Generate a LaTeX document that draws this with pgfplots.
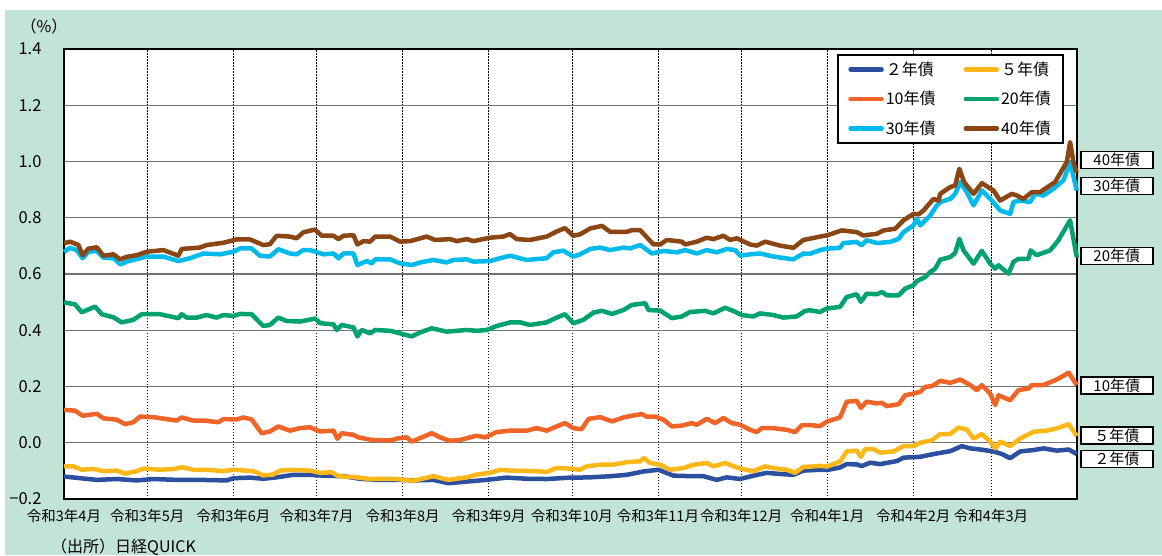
\documentclass[border=0pt]{standalone}
\usepackage{fontspec}
\setmainfont{Noto Sans CJK JP}
\usepackage{pgfplots}
\pgfplotsset{compat=1.18}
\definecolor{bgmint}{RGB}{193,228,215}
\definecolor{cTwo}{RGB}{44,80,160}
\definecolor{cFive}{RGB}{252,183,25}
\definecolor{cTen}{RGB}{241,100,40}
\definecolor{cTwenty}{RGB}{0,163,112}
\definecolor{cThirty}{RGB}{0,186,235}
\definecolor{cForty}{RGB}{140,70,20}
\tikzset{rbox/.style={draw=black, line width=1.5pt, fill=white, anchor=west, minimum width=72pt, minimum height=17pt, inner sep=0pt, xshift=3pt, font=\fontsize{15}{15}\selectfont}}
\begin{document}
\begin{tikzpicture}
\fill[white] (-64pt,-56pt) rectangle (1098pt,499pt);
\fill[bgmint] (-59pt,-56pt) rectangle (1098pt,489pt);
\begin{axis}[
  at={(0pt,0pt)}, anchor=south west,
  scale only axis, width=1013pt, height=450pt,
  xmin=0, xmax=365, ymin=-0.2, ymax=1.4,
  xtick={0,30,61,91,122,153,183,214,244,275,306,334},
  xticklabels={令和3年4月,令和3年5月,令和3年6月,令和3年7月,令和3年8月,令和3年9月,令和3年10月,令和3年11月,令和3年12月,令和4年1月,令和4年2月,令和4年3月},
  ytick={-0.2,0,0.2,0.4,0.6,0.8,1.0,1.2,1.4},
  yticklabels={−0.2,0.0,0.2,0.4,0.6,0.8,1.0,1.2,1.4},
  xmajorgrids, ymajorgrids,
  major x grid style={black, line width=0.7pt, dash pattern=on 1.5pt off 1.5pt},
  major y grid style={black!55, line width=1.3pt},
  axis line style={line width=2.5pt},
  axis background/.style={fill=white},
  major tick length=0pt,
  xticklabel style={font=\fontsize{14.5}{15}\selectfont, yshift=-7pt},
  yticklabel style={font=\fontsize{16.5}{16.5}\selectfont, xshift=-19pt},
  clip=false,
  every axis plot/.append style={line width=4.5pt, line join=round, no markers},
  legend columns=2,
  legend cell align=left,
  legend image code/.code={\draw[#1, line width=4.5pt, line cap=round] (2pt,0pt) -- (33pt,0pt);},
  legend style={at={(rel axis cs:0.987,0.989)}, anchor=north east, draw=black, line width=2pt, fill=white,
    font=\fontsize{16}{18}\selectfont, inner xsep=10pt, inner ysep=5pt, row sep=10.5pt,
    /tikz/every even column/.append style={column sep=26pt}},
]
\addplot[cTwo] coordinates {(0,-0.120)(5.8,-0.126)(11.8,-0.132)(19.0,-0.129)(26.2,-0.134)(32.2,-0.129)(40.6,-0.132)(49.0,-0.132)(58.6,-0.134)(61.0,-0.126)(67.0,-0.124)(71.8,-0.128)(76.6,-0.123)(82.6,-0.114)(88.7,-0.114)(93.5,-0.117)(100.7,-0.119)(106.7,-0.128)(112.7,-0.132)(121.1,-0.132)(125.9,-0.134)(133.1,-0.132)(138.5,-0.144)(145.1,-0.138)(152.3,-0.132)(159.5,-0.124)(166.7,-0.128)(173.9,-0.129)(182.3,-0.124)(184.7,-0.124)(189.6,-0.123)(196.8,-0.119)(202.8,-0.114)(208.8,-0.102)(214.2,-0.096)(219.6,-0.117)(226.8,-0.119)(230.4,-0.119)(235.2,-0.132)(238.8,-0.123)(243.6,-0.129)(248.4,-0.117)(253.2,-0.107)(258.0,-0.111)(262.8,-0.114)(266.4,-0.099)(272.4,-0.096)(275.0,-0.097)(279.6,-0.088)(282.0,-0.076)(285.6,-0.077)(287.4,-0.083)(290.5,-0.071)(294.1,-0.076)(300.1,-0.065)(302.5,-0.053)(308.5,-0.050)(314.5,-0.038)(319.3,-0.030)(323.5,-0.012)(326.5,-0.020)(330.1,-0.024)(334.9,-0.031)(337.9,-0.040)(340.9,-0.055)(344.5,-0.031)(349.3,-0.026)(352.9,-0.020)(357.7,-0.028)(362.0,-0.024)(364.9,-0.040)};
\addlegendentry{２年債}
\addplot[cFive] coordinates {(0,-0.084)(3.4,-0.084)(6.4,-0.096)(10.6,-0.093)(14.2,-0.101)(19.0,-0.099)(22.0,-0.110)(26.2,-0.101)(28.6,-0.092)(34.6,-0.096)(40.0,-0.093)(42.4,-0.087)(46.6,-0.096)(51.4,-0.096)(57.4,-0.101)(61.0,-0.096)(68.2,-0.101)(71.8,-0.116)(75.4,-0.113)(77.8,-0.099)(82.6,-0.096)(88.6,-0.099)(92.3,-0.107)(96.5,-0.105)(98.9,-0.119)(105.5,-0.123)(110.3,-0.129)(118.7,-0.128)(125.9,-0.135)(133.1,-0.119)(138.5,-0.132)(145.1,-0.123)(148.7,-0.113)(153.5,-0.107)(157.1,-0.096)(160.7,-0.099)(170.3,-0.101)(173.9,-0.104)(177.5,-0.090)(182.3,-0.092)(185.9,-0.096)(188.3,-0.084)(193.2,-0.078)(197.9,-0.078)(202.8,-0.069)(207.6,-0.066)(208.8,-0.054)(211.2,-0.072)(214.8,-0.078)(218.4,-0.096)(223.2,-0.090)(226.8,-0.078)(231.6,-0.072)(234.0,-0.084)(238.2,-0.072)(243.6,-0.092)(248.4,-0.101)(252.6,-0.084)(256.8,-0.092)(260.4,-0.096)(263.4,-0.107)(266.4,-0.086)(268.8,-0.085)(272.4,-0.082)(274.8,-0.085)(279.6,-0.067)(282.0,-0.031)(285.6,-0.028)(287.1,-0.050)(288.6,-0.023)(291.7,-0.023)(294.1,-0.035)(298.9,-0.031)(302.5,-0.012)(306.1,-0.012)(308.5,0.000)(312.7,0.009)(315.7,0.031)(319.3,0.031)(322.3,0.054)(325.3,0.047)(327.7,0.015)(330.7,0.031)(333.7,0.004)(335.5,-0.020)(337.3,0.004)(340.9,-0.012)(344.5,0.015)(349.3,0.039)(354.1,0.043)(357.7,0.051)(362.0,0.066)(364.9,0.024)};
\addlegendentry{５年債}
\addplot[cTen] coordinates {(0,0.117)(4.0,0.114)(6.7,0.096)(11.8,0.103)(14.2,0.087)(19.0,0.082)(22.0,0.066)(25.0,0.073)(27.4,0.093)(32.2,0.091)(37.0,0.084)(40.6,0.079)(42.4,0.090)(46.6,0.079)(50.2,0.079)(55.6,0.073)(57.4,0.084)(62.2,0.083)(64.6,0.090)(67.6,0.083)(71.2,0.034)(74.2,0.040)(77.2,0.058)(81.4,0.043)(85.0,0.052)(88.6,0.055)(92.3,0.040)(97.1,0.043)(98.5,0.014)(100.1,0.034)(104.3,0.028)(106.1,0.019)(110.9,0.010)(117.5,0.008)(120.5,0.016)(123.5,0.019)(125.3,0.004)(132.5,0.034)(135.5,0.019)(139.1,0.007)(142.7,0.010)(148.7,0.025)(151.7,0.019)(155.9,0.038)(160.7,0.043)(166.7,0.043)(170.3,0.052)(173.9,0.043)(177.5,0.058)(180.5,0.070)(183.5,0.052)(186.5,0.048)(189.0,0.085)(193.2,0.091)(197.4,0.076)(201.6,0.090)(204.6,0.096)(208.2,0.102)(210.0,0.093)(213.0,0.093)(216.0,0.082)(219.0,0.058)(222.6,0.061)(226.2,0.070)(228.0,0.064)(231.6,0.085)(234.6,0.070)(237.6,0.088)(240.6,0.070)(243.6,0.064)(247.2,0.046)(249.6,0.038)(251.4,0.052)(255.6,0.052)(260.4,0.046)(263.4,0.038)(265.8,0.062)(268.8,0.063)(272.4,0.059)(274.8,0.075)(279.6,0.090)(282.0,0.146)(285.6,0.149)(287.1,0.124)(289.2,0.146)(292.9,0.140)(294.7,0.142)(296.5,0.130)(300.7,0.137)(303.1,0.169)(306.1,0.175)(308.5,0.181)(310.3,0.199)(312.7,0.201)(315.7,0.220)(319.3,0.213)(322.9,0.225)(326.5,0.205)(328.9,0.187)(330.7,0.205)(333.7,0.175)(335.5,0.134)(336.7,0.169)(340.9,0.151)(343.9,0.187)(347.5,0.193)(348.7,0.205)(352.9,0.205)(357.7,0.225)(362.0,0.249)(364.9,0.205)};
\addlegendentry{10年債}
\addplot[cTwenty] coordinates {(0,0.499)(4.0,0.492)(6.4,0.464)(11.2,0.484)(13.6,0.457)(17.8,0.446)(20.8,0.428)(25.0,0.437)(28.0,0.457)(34.6,0.457)(41.2,0.443)(42.4,0.457)(44.2,0.445)(47.8,0.445)(51.4,0.454)(55.0,0.445)(57.4,0.454)(61.0,0.451)(63.4,0.458)(67.6,0.457)(71.8,0.415)(74.2,0.419)(77.2,0.445)(80.2,0.433)(85.0,0.431)(89.8,0.440)(90.5,0.442)(92.3,0.425)(97.1,0.421)(98.3,0.401)(100.1,0.419)(104.3,0.410)(105.7,0.378)(107.3,0.401)(110.3,0.389)(112.1,0.401)(117.5,0.398)(121.1,0.389)(125.3,0.378)(128.3,0.392)(132.5,0.407)(137.9,0.395)(145.1,0.401)(148.7,0.398)(152.3,0.401)(155.9,0.415)(160.7,0.428)(164.3,0.428)(167.9,0.419)(173.9,0.428)(177.5,0.445)(180.5,0.457)(183.5,0.425)(187.1,0.437)(190.8,0.463)(193.8,0.469)(197.4,0.458)(201.6,0.472)(204.6,0.490)(209.4,0.496)(210.6,0.472)(214.8,0.470)(219.0,0.443)(222.6,0.449)(225.6,0.465)(231.0,0.469)(234.0,0.460)(238.2,0.480)(241.8,0.466)(244.2,0.454)(248.4,0.449)(250.8,0.460)(255.6,0.454)(259.2,0.445)(264.0,0.449)(267.0,0.469)(268.8,0.471)(272.4,0.465)(274.8,0.477)(279.6,0.483)(282.0,0.518)(285.6,0.528)(287.1,0.501)(289.2,0.530)(292.9,0.528)(294.7,0.536)(296.5,0.524)(300.7,0.524)(303.1,0.548)(306.1,0.560)(307.3,0.575)(310.3,0.589)(312.1,0.607)(313.9,0.619)(315.7,0.651)(319.3,0.660)(321.1,0.675)(322.6,0.725)(324.1,0.684)(327.7,0.637)(330.7,0.682)(333.7,0.637)(335.5,0.619)(336.7,0.631)(340.3,0.601)(342.1,0.643)(343.9,0.654)(347.5,0.654)(348.3,0.684)(350.5,0.667)(355.3,0.684)(358.3,0.720)(362.5,0.791)(364.9,0.660)};
\addlegendentry{20年債}
\addplot[cThirty] coordinates {(0,0.679)(2.2,0.693)(4.6,0.685)(6.7,0.656)(8.8,0.679)(11.8,0.682)(14.2,0.658)(17.8,0.656)(20.4,0.634)(22.6,0.644)(27.4,0.656)(29.8,0.662)(35.8,0.662)(41.2,0.646)(45.4,0.656)(50.2,0.673)(56.2,0.670)(61.0,0.679)(63.4,0.691)(67.6,0.691)(70.6,0.665)(74.2,0.662)(77.2,0.688)(81.4,0.673)(83.8,0.670)(86.2,0.685)(88.7,0.685)(93.5,0.670)(97.1,0.673)(98.9,0.656)(100.7,0.673)(104.3,0.673)(105.7,0.632)(109.1,0.646)(110.9,0.638)(112.1,0.652)(117.5,0.652)(121.1,0.638)(125.3,0.632)(128.3,0.641)(133.1,0.650)(137.9,0.641)(140.3,0.650)(145.1,0.652)(147.5,0.644)(153.5,0.646)(157.1,0.656)(160.7,0.665)(166.7,0.650)(173.9,0.656)(176.3,0.677)(179.9,0.683)(183.5,0.662)(185.9,0.670)(189.6,0.689)(193.2,0.694)(196.8,0.685)(201.6,0.694)(204.0,0.691)(207.6,0.703)(211.8,0.673)(216.0,0.682)(220.8,0.677)(223.8,0.685)(228.0,0.673)(231.6,0.685)(235.2,0.677)(238.8,0.689)(241.8,0.685)(243.6,0.665)(247.2,0.670)(250.8,0.673)(255.6,0.662)(262.8,0.652)(266.4,0.673)(268.8,0.672)(272.4,0.685)(274.8,0.690)(279.6,0.693)(280.8,0.710)(285.6,0.714)(287.4,0.702)(289.2,0.720)(292.9,0.710)(297.7,0.714)(300.7,0.725)(302.5,0.749)(306.1,0.773)(307.3,0.796)(308.5,0.773)(312.1,0.808)(314.5,0.844)(315.7,0.856)(319.3,0.867)(321.1,0.885)(322.9,0.927)(325.3,0.891)(327.7,0.844)(330.7,0.897)(334.3,0.861)(337.3,0.826)(340.9,0.814)(342.1,0.856)(344.5,0.861)(348.1,0.856)(349.9,0.885)(352.9,0.879)(356.5,0.903)(360.1,0.933)(362.5,0.998)(364.9,0.897)};
\addlegendentry{30年債}
\addplot[cForty] coordinates {(0,0.709)(2.2,0.715)(5.2,0.703)(6.7,0.667)(8.8,0.690)(11.8,0.695)(14.2,0.665)(17.8,0.670)(20.2,0.652)(22.6,0.661)(26.2,0.667)(29.8,0.679)(35.8,0.685)(41.2,0.665)(42.4,0.689)(49.0,0.694)(51.4,0.703)(57.4,0.711)(62.2,0.723)(67.0,0.723)(71.8,0.703)(74.2,0.706)(76.6,0.736)(81.4,0.733)(83.8,0.727)(86.2,0.748)(90.4,0.758)(92.9,0.736)(97.1,0.736)(98.9,0.724)(100.7,0.736)(104.3,0.738)(105.7,0.705)(107.9,0.717)(110.3,0.715)(112.1,0.733)(117.5,0.733)(121.1,0.715)(124.7,0.717)(130.7,0.733)(133.7,0.721)(139.1,0.724)(141.5,0.717)(145.1,0.724)(147.5,0.717)(153.5,0.729)(158.3,0.733)(160.7,0.742)(163.1,0.724)(167.9,0.721)(173.9,0.733)(177.5,0.751)(180.5,0.763)(183.5,0.736)(185.9,0.741)(189.6,0.762)(193.8,0.771)(196.8,0.750)(202.8,0.750)(204.6,0.756)(207.6,0.756)(212.4,0.705)(214.8,0.705)(217.2,0.721)(222.6,0.715)(223.8,0.705)(228.0,0.715)(231.6,0.729)(234.0,0.724)(237.6,0.736)(240.0,0.721)(242.4,0.727)(247.2,0.705)(249.6,0.701)(252.6,0.715)(258.0,0.701)(262.8,0.693)(266.4,0.721)(272.4,0.733)(274.8,0.737)(280.2,0.755)(285.6,0.749)(288.0,0.737)(292.9,0.743)(295.3,0.755)(299.5,0.761)(302.5,0.791)(306.1,0.814)(307.9,0.812)(309.7,0.826)(313.3,0.867)(315.1,0.861)(315.7,0.885)(319.3,0.909)(321.1,0.915)(322.6,0.974)(324.3,0.927)(327.7,0.885)(330.7,0.923)(334.9,0.897)(337.3,0.861)(341.5,0.885)(343.3,0.879)(345.7,0.867)(348.7,0.891)(351.7,0.891)(357.1,0.927)(361.3,0.998)(362.5,1.069)(363.7,0.998)(364.9,0.960)};
\addlegendentry{40年債}
\node[rbox] at (axis cs:365,1.005) {40年債};
\node[rbox] at (axis cs:365,0.913) {30年債};
\node[rbox] at (axis cs:365,0.664) {20年債};
\node[rbox] at (axis cs:365,0.204) {10年債};
\node[rbox] at (axis cs:365,0.026) {５年債};
\node[rbox] at (axis cs:365,-0.058) {２年債};
\end{axis}
\node[font=\fontsize{16}{16}\selectfont, inner sep=0pt] at (-20pt,473pt) {（\%）};
\node[font=\fontsize{16}{16}\selectfont, inner sep=0pt, anchor=west] at (-13pt,-48pt) {（出所）日経QUICK};
\pgfresetboundingbox
\useasboundingbox (-64pt,-56pt) rectangle (1098pt,499pt);
\end{tikzpicture}
\end{document}
